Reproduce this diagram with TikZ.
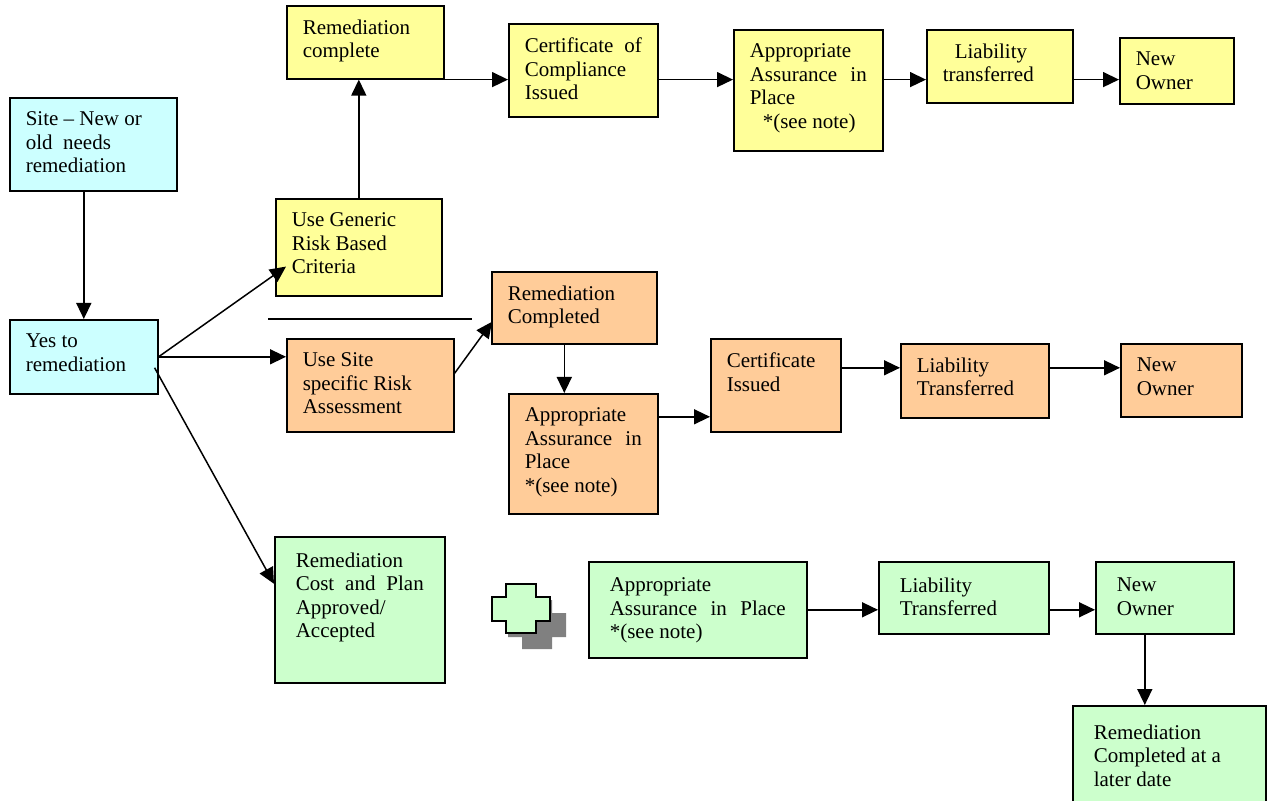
\documentclass[tikz,border=0pt]{standalone}
\usepackage{fontspec}
\setmainfont{Liberation Serif}
\usetikzlibrary{arrows.meta}
\definecolor{cyanbox}{HTML}{CCFFFF}
\definecolor{yelbox}{HTML}{FFFF99}
\definecolor{orabox}{HTML}{FFCC99}
\definecolor{grnbox}{HTML}{CCFFCC}
\definecolor{shadowgray}{HTML}{808080}
% text block of a box: width, height (pt), text
\newcommand{\bt}[3]{\parbox[c][#2pt][t]{#1pt}{#3}}
\newcommand{\jl}[1]{\makebox[\linewidth][s]{#1}}
\begin{document}
\begin{tikzpicture}[x=0.5pt, y=-0.5pt, >=Triangle]
	\tikzset{bx/.style={draw, line width=0.8pt, anchor=north west, inner xsep=8pt, inner ysep=7pt, font=\fontsize{10.5}{11.75}\selectfont},
		gbx/.style={bx, fill=grnbox, inner xsep=10.5pt, inner ysep=8pt},
		ar/.style={-{Triangle[length=8pt,width=7.5pt]}, line width=0.75pt}}
	\fill[white] (0,0) rectangle (1267,801);
	\useasboundingbox (0,0) rectangle (1267,801);
	% start
	\node[bx, fill=cyanbox] (site) at (9,97) {\bt{67.5}{32.5}{Site -- New or\\old~ needs\\remediation}};
	\node[bx, fill=cyanbox] (yes) at (9,319) {\bt{58}{23}{Yes to\\remediation}};
	% generic criteria route
	\node[bx, fill=yelbox] (remc) at (286,5) {\bt{62.5}{22.5}{Remediation\\complete}};
	\node[bx, fill=yelbox] (gen) at (275,198) {\bt{67}{34.5}{Use Generic\\Risk Based\\Criteria}};
	\node[bx, fill=yelbox] (coc) at (508,23) {\bt{58.5}{32.5}{\jl{Certificate of}\\Compliance\\Issued}};
	\node[bx, fill=yelbox] (aay) at (733,29) {\bt{58.5}{46.5}{Appropriate\\\jl{Assurance in}\\Place\\\hspace*{6.5pt}*(see note)}};
	\node[bx, fill=yelbox] (lty) at (926,29) {\bt{57}{22.5}{\hspace*{6pt}Liability\\transferred}};
	\node[bx, fill=yelbox] (noy) at (1119,37) {\bt{41}{19}{New\\Owner}};
	% site specific route
	\node[bx, fill=orabox] (uss) at (286,338) {\bt{67.5}{32.5}{Use Site\\specific Risk\\Assessment}};
	\node[bx, fill=orabox] (rcd) at (491,271) {\bt{66.5}{22}{Remediation\\Completed}};
	\node[bx, fill=orabox] (aao) at (508,393) {\bt{58.5}{46}{Appropriate\\\jl{Assurance in}\\Place\\{}*(see note)}};
	\node[bx, fill=orabox] (cio) at (710,338) {\bt{49}{32.5}{Certificate\\Issued}};
	\node[bx, fill=orabox] (lto) at (900,343) {\bt{58}{23}{Liability\\Transferred}};
	\node[bx, fill=orabox] (noo) at (1120,343) {\bt{44.5}{22.5}{New\\Owner}};
	% cost and plan route
	\node[gbx] (rcp) at (274,536) {\bt{64}{57}{Remediation\\\jl{Cost and Plan}\\Approved/\\Accepted}};
	\node[gbx] (aag) at (588,561) {\bt{88}{32}{Appropriate\\\jl{Assurance in Place}\\{}*(see note)}};
	\node[gbx] (ltg) at (878,561) {\bt{64}{20}{Liability\\Transferred}};
	\node[gbx] (nog) at (1095,561) {\bt{48}{20}{New\\Owner}};
	\node[gbx, inner ysep=9.5pt] (rld) at (1072,705) {\bt{75.5}{36}{Remediation\\Completed at a\\later date}};
	% plus sign
	\fill[shadowgray, shift={(16,16)}] (506,584) -- (536,584) -- (536,597) -- (550,597) -- (550,621) -- (536,621) -- (536,633) -- (506,633) -- (506,621) -- (492,621) -- (492,597) -- (506,597) -- cycle;
	\draw[fill=grnbox, line width=1pt] (506,584) -- (536,584) -- (536,597) -- (550,597) -- (550,621) -- (536,621) -- (536,633) -- (506,633) -- (506,621) -- (492,621) -- (492,597) -- (506,597) -- cycle;
	\draw[line width=0.7pt] (268,319) -- (472,319);
	% connectors
	\draw[ar] (yes.north |- site.south) -- (yes.north);
	\draw[ar] (yes.east) -- ([shift={(11,-30)}]gen.south west);
	\draw[ar] (yes.east) -- (yes.east -| uss.west);
	\draw[ar] ([shift={(-4,11)}]yes.east) -- ([shift={(0,-26)}]rcp.west);
	\draw[ar] (gen.north) -- (gen.north |- remc.south);
	\draw[ar] (remc.south east) -- (remc.south east -| coc.west);
	\foreach \a/\b in {coc/aay, aay/lty, lty/noy}
	\draw[ar] (\a.east |- remc.south) -- (\b.west |- remc.south);
	\draw[ar] ([shift={(0,-12)}]uss.east) -- ([shift={(1,14)}]rcd.west);
	\draw[ar] ([shift={(-10,0)}]rcd.south) -- ([shift={(-10,0)}]rcd.south |- aao.north);
	\draw[ar] ([shift={(0,-37)}]aao.east) -- ([shift={(0,-37)}]aao.east -| cio.west);
	\foreach \a/\b in {cio/lto, lto/noo}
	\draw[ar] ([shift={(0,-13)}]lto.west -| \a.east) -- ([shift={(0,-13)}]lto.west -| \b.west);
	\draw[ar] (aag.east) -- (aag.east -| ltg.west);
	\draw[ar] (aag.east -| ltg.east) -- (aag.east -| nog.west);
	\draw[ar] ([shift={(-20,0)}]nog.south) -- ([shift={(-20,0)}]nog.south |- rld.north);
\end{tikzpicture}
\end{document}
